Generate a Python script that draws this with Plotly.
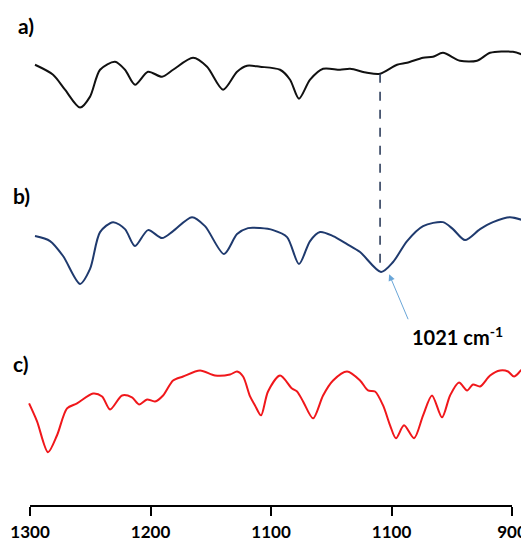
import numpy as np
import plotly.graph_objects as go

# ---- data (wavenumber in cm-1, intensity in arbitrary units) ----
wn_a = [1295.9, 1280.9, 1271.0, 1258.5, 1250.2, 1241.9, 1229.5, 1221.2, 1212.9, 1202.1,
        1190.5, 1181.3, 1164.7, 1153.1, 1139.8, 1128.2, 1119.9, 1109.1, 1092.5, 1084.2,
        1076.8, 1067.6, 1056.8, 1042.7, 1034.4, 1020.3, 1009.5, 995.4, 987.1, 973.8,
        965.6, 957.3, 943.2, 929.0, 918.2, 899.2, 886.7]
int_a = [4.5, 3.5, 2.0, 0.2, 1.3, 4.0, 4.8, 4.0, 2.5, 3.8,
         3.3, 4.0, 5.2, 4.3, 2.0, 3.8, 4.4, 4.3, 4.0, 3.0,
         1.1, 3.0, 4.1, 4.0, 4.1, 3.7, 3.6, 4.5, 4.7, 5.2,
         5.3, 5.7, 4.9, 4.9, 5.7, 5.8, 5.3]

wn_b = [1295.9, 1283.4, 1272.6, 1258.5, 1250.2, 1241.9, 1231.1, 1221.2, 1212.9, 1202.1,
        1190.5, 1181.3, 1165.6, 1154.8, 1139.0, 1128.2, 1119.1, 1109.1, 1098.3, 1086.7,
        1076.8, 1067.6, 1059.3, 1048.5, 1036.9, 1026.1, 1008.7, 998.7, 987.1, 973.8,
        957.3, 949.0, 939.0, 926.5, 915.8, 901.6, 886.7]
int_b = [5.3, 4.8, 3.3, 0.5, 2.0, 5.7, 6.7, 6.0, 4.3, 5.9,
         5.1, 5.8, 7.2, 6.3, 3.5, 5.5, 6.1, 6.1, 5.9, 5.2,
         2.5, 4.8, 5.7, 5.3, 4.5, 3.7, 1.7, 2.7, 4.8, 6.3,
         6.7, 6.0, 4.9, 6.0, 6.7, 7.2, 6.7]

wn_c = [1300.8, 1294.2, 1285.1, 1277.6, 1269.3, 1261.0, 1247.7, 1240.2, 1233.6, 1223.6,
        1215.4, 1209.5, 1202.9, 1196.3, 1189.6, 1181.3, 1173.0, 1158.9, 1146.5, 1134.0,
        1128.2, 1123.2, 1117.4, 1113.3, 1108.3, 1102.5, 1092.5, 1082.6, 1078.4, 1073.4,
        1065.1, 1056.8, 1048.5, 1036.9, 1026.1, 1019.5, 1013.7, 1007.0, 1001.2, 996.3,
        989.6, 981.3, 973.8, 966.4, 958.1, 951.4, 944.0, 937.3, 932.4, 926.5,
        918.2, 909.9, 903.3, 898.3, 891.7, 886.7]
int_c = [5.5, 3.7, 0.6, 2.3, 5.0, 5.5, 6.5, 6.2, 4.9, 6.3,
         6.1, 5.4, 5.9, 5.7, 6.3, 7.8, 8.2, 8.8, 8.3, 8.4,
         8.7, 8.2, 6.2, 5.3, 4.3, 6.7, 8.3, 7.0, 6.7, 5.7,
         4.0, 6.3, 7.8, 8.7, 7.8, 6.8, 6.7, 5.3, 3.3, 2.0,
         3.3, 2.0, 4.3, 6.3, 4.1, 6.3, 7.6, 6.8, 7.4, 7.2,
         8.3, 8.8, 8.7, 8.2, 8.9, 9.2]

labels = ["a)", "b)", "c)"]
offsets = [39.8, 21.8, 4.8]
colors = ["#111111", "#1F3A6E", "#F0171B"]

tick_vals = [1300, 1200, 1100, 1000, 900]
tick_text = ["1300", "1200", "1100", "1100", "900"]

marker_wn = 1009.5          # dashed guide line position
arrow_wn = 1002.0           # arrow tip
peak_label = "1021 cm<sup>-1</sup>"

# page body has an 8px margin: figure drawn from (8, 8) in the window
W, H = 521, 534
PLOT_H = 500


def px_x(wx):
    return (wx - 8) / W


def px_y(wy):
    return (508 - wy) / PLOT_H


# ---- figure ----
fig = go.Figure()
series = [(wn_a, int_a), (wn_b, int_b), (wn_c, int_c)]
for (wx, wy), off, col in zip(series, offsets, colors):
    fig.add_trace(go.Scatter(
        x=wx, y=[v + off for v in wy], mode="lines",
        line=dict(color=col, width=2, shape="spline", smoothing=0.8),
        hoverinfo="skip", showlegend=False))

# dashed guide line between spectra a and b
ya = np.interp(marker_wn, wn_a[::-1], int_a[::-1]) + offsets[0]
yb = np.interp(marker_wn, wn_b[::-1], int_b[::-1]) + offsets[1]
fig.add_shape(type="line", x0=marker_wn, x1=marker_wn, y0=ya, y1=yb,
              xref="x", yref="y", line=dict(color="#2E3E5C", width=1.6, dash="dash"))

# horizontal axis line from 1300 to 900
fig.add_shape(type="line", x0=tick_vals[0], x1=tick_vals[-1], y0=0, y1=0,
              xref="x", yref="paper", line=dict(color="black", width=2))

# arrow pointing to band, with its label
y_tip = np.interp(arrow_wn, wn_b[::-1], int_b[::-1]) + offsets[1] - 0.9
fig.add_annotation(x=arrow_wn, y=y_tip, xref="x", yref="y", text=peak_label,
                   showarrow=True, arrowhead=2, arrowsize=1.3, arrowwidth=1,
                   arrowcolor="#6AA6D8", ax=19, ay=45,
                   xanchor="left", yanchor="top", borderpad=3,
                   font=dict(family="Lato", size=20, color="black", weight="bold"))

label_pos = [(16, 26), (11, 196), (11, 365)]
for lab, (wx, wy) in zip(labels, label_pos):
    fig.add_annotation(x=px_x(wx), y=px_y(wy), xref="paper", yref="paper",
                       text=lab, showarrow=False, xanchor="left", yanchor="middle",
                       font=dict(family="Lato", size=21, color="black", weight="bold"))

fig.update_layout(
    width=W, height=H,
    margin=dict(l=0, r=0, t=0, b=34),
    paper_bgcolor="white", plot_bgcolor="white",
    xaxis=dict(range=[1318.3, 885.9], showgrid=False, zeroline=False, showline=False,
               tickvals=tick_vals, ticktext=tick_text, ticks="outside", ticklen=9,
               tickwidth=2, tickcolor="black", ticklabelstandoff=2,
               tickfont=dict(family="Lato", size=17, color="black", weight="bold")),
    yaxis=dict(range=[0, 50.0], visible=False),
)

fig.write_html("out.html")
